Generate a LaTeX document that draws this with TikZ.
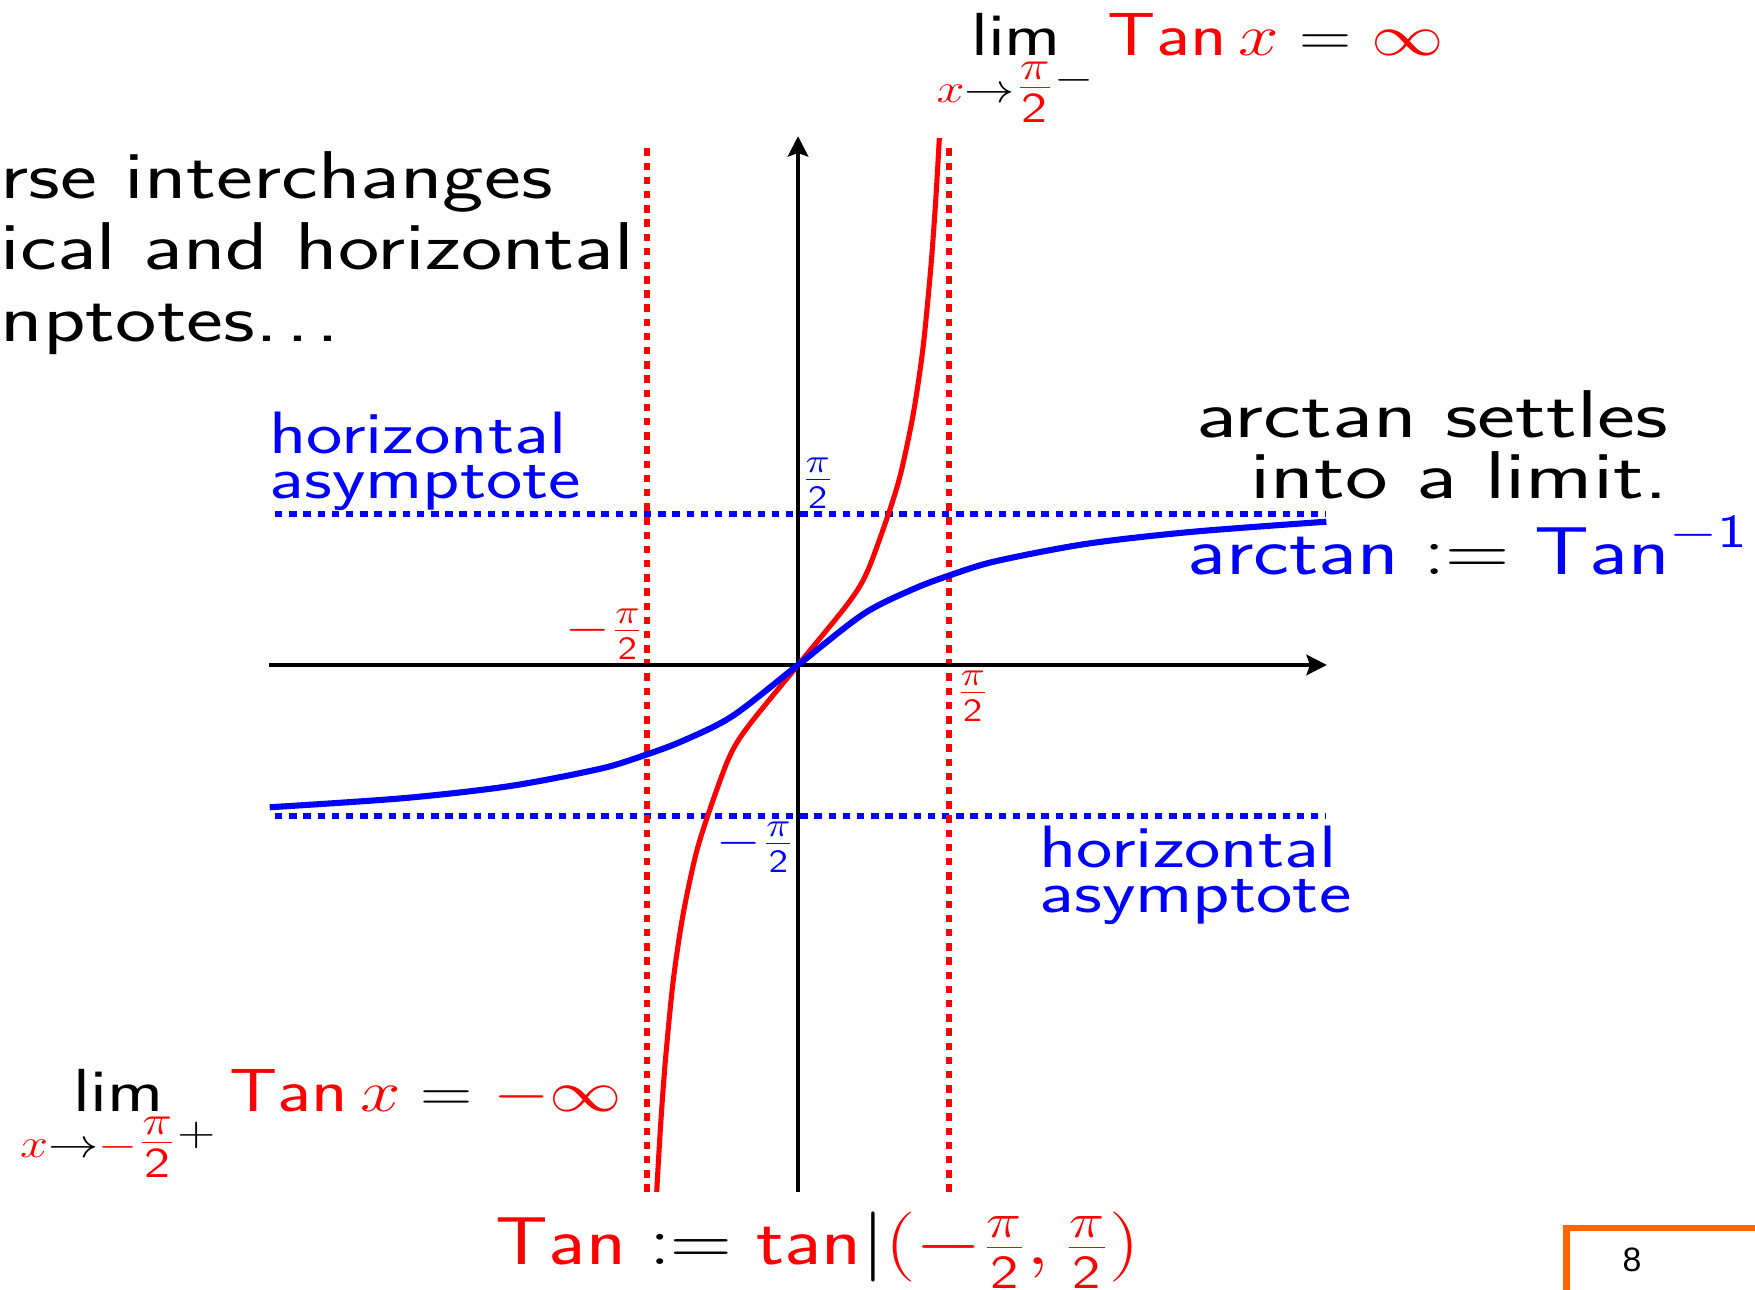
\documentclass[tikz,border=0pt]{standalone}
\usepackage{fontspec}
\usetikzlibrary{arrows.meta}
\newfontfamily\pagenumfont{Liberation Sans}
\definecolor{pageorange}{RGB}{255,102,0}
\newcommand{\hpi}{\frac{\pi}{\mathsf{2}}}
\newcommand{\hpis}{{\textstyle\frac{\pi}{\mathsf{2}}}}

\begin{document}
\begin{tikzpicture}[
  axis/.style={line width=1.4pt,-{Stealth[length=6pt,width=6pt,inset=1pt]}},
  vasym/.style={red,line width=1.8pt,dash pattern=on 2.2pt off 2pt},
  hasym/.style={blue,line width=1.8pt,dash pattern=on 2.2pt off 2pt},
  txt/.style={inner sep=0pt,xscale=1.3,font=\sffamily\fontsize{20}{21.2}\selectfont},
  limtxt/.style={txt,xscale=1.24/1.3,font=\sffamily\fontsize{18}{20}\selectfont},
  note/.style={txt,blue,align=left,font=\sffamily\fontsize{17.7}{13.2}\selectfont},
  tick/.style={inner xsep=0.5pt,inner ysep=1.5pt,xscale=1.18,font=\sffamily\fontsize{13.7}{15}\selectfont},
]
  \useasboundingbox (-8.30,-6.50) rectangle (9.953,6.916);

  \draw[hasym] (-5.44,{pi/2}) -- (5.495,{pi/2});
  \draw[hasym] (-5.44,{-pi/2}) -- (5.495,{-pi/2});
  \draw[vasym] ({-pi/2},-5.48) -- ({-pi/2},5.42);
  \draw[vasym] ({pi/2},-5.48) -- ({pi/2},5.42);
  \draw[axis] (-5.5,0) -- (5.5,0);
  \draw[axis] (0,-5.48) -- (0,5.5);

  \draw[red,line width=1.5pt] plot[smooth] coordinates {(-1.47,-5.48) (-1.43,-4.8)
    (-1.38,-4.12) (-1.3,-3.3) (-1.2,-2.62) (-1.07,-2.0) (-0.94,-1.57) (-0.72,-0.97)
    (-0.52,-0.64) (0,0) (0.52,0.64) (0.72,0.97) (0.94,1.57) (1.07,2.0) (1.2,2.62)
    (1.3,3.3) (1.38,4.12) (1.43,4.8) (1.47,5.48)};
  \draw[blue,line width=1.8pt] plot[smooth] coordinates {(-5.495,-1.48) (-4.1,-1.385)
    (-3.0,-1.26) (-2.06,-1.08) (-1.6,-0.94) (-1.2,-0.79) (-0.68,-0.53) (0,0)
    (0.68,0.53) (1.2,0.79) (1.6,0.94) (2.06,1.08) (3.0,1.26) (4.1,1.385) (5.495,1.49)};

  \node[tick,red,anchor=south east] (xminus) at ({-pi/2},0) {$-\hpi$};
  \node[tick,red,anchor=north west,inner xsep=1.5pt] (xplus) at ({pi/2},0) {$\hpi$};
  \node[tick,blue,anchor=south west] (yplus) at (0,{pi/2}) {$\hpi$};
  \node[tick,blue,anchor=north east] (yminus) at (0,{-pi/2}) {$-\hpi$};

  \node[txt,align=left,anchor=base west] (inverse) at (-8.30,3.364)
    {rse interchanges\\ical and horizontal\\nptotes.\kern1.8pt.\kern1.8pt.};
  \node[note,anchor=base west,xscale=1.29/1.3] (asymup) at (-5.506,1.735) {horizontal\\asymptote};
  \node[note,anchor=base west,xscale=1.29/1.3] (asymdown) at (2.503,-2.573) {horizontal\\asymptote};
  \node[txt,align=right,anchor=base east,xscale=1.34/1.3,font=\sffamily\fontsize{20}{18}\selectfont]
    (settles) at (9.058,1.734) {arctan settles\\into a limit.};
  \node[txt,anchor=base west,xscale=1.27/1.3] (arcdef) at (4.04,0.936)
    {$\textcolor{blue}{\mathsf{arctan}} := \textcolor{blue}{\mathsf{Tan}^{-\mathsf{1}}}$};
  \node[txt,anchor=base west,xscale=1.22/1.3] (tandef) at (-3.15,-6.238)
    {$\textcolor{red}{\mathsf{Tan}} := \textcolor{red}{\mathsf{tan}}|\textcolor{red}{(-\hpi,\hpi)}$};
  \node[limtxt,anchor=base west] (limup) at (1.432,6.334)
    {$\mathop{\mathsf{lim}}\limits_{\textcolor{red}{x}\to\textcolor{red}{\hpis}^{\scriptstyle -}}
      \textcolor{red}{\mathsf{Tan}\,x} = \textcolor{red}{\infty}$};
  \node[limtxt,anchor=base west] (limdown) at (-8.10,-4.639)
    {$\mathop{\mathsf{lim}}\limits_{\textcolor{red}{x}\to\textcolor{red}{-\hpis}^{\scriptstyle +}}
      \textcolor{red}{\mathsf{Tan}\,x} = \textcolor{red}{-\infty}$};

  \draw[pageorange,line width=2pt] (7.99,-5.855) rectangle (10.5,-7.5);
  \node[font=\pagenumfont\fontsize{10}{12}\selectfont] (pagenum) at (8.674,-6.188) {8};
\end{tikzpicture}
\end{document}
